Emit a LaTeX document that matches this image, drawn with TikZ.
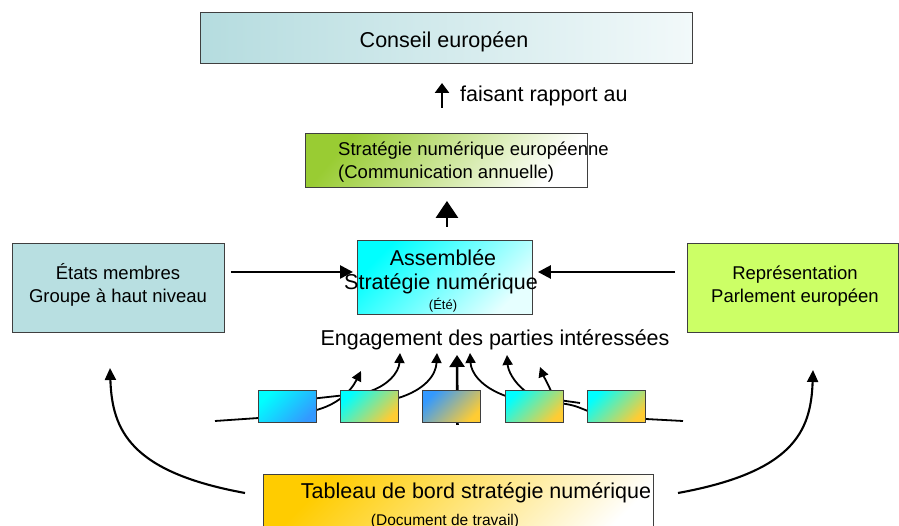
\documentclass[tikz,border=0pt]{standalone}
\usepackage{fontspec}
\setmainfont{Liberation Sans}
\usetikzlibrary{arrows.meta,calc}
\pgfdeclarelayer{background}
\pgfsetlayers{background,main}
\definecolor{consA}{HTML}{B5DCDF}
\definecolor{consB}{HTML}{F2F9FA}
\definecolor{euG}{HTML}{99CC33}
\definecolor{euM}{HTML}{D6ECB0}
\definecolor{etat}{HTML}{B8DFE1}
\definecolor{asmB}{HTML}{E6FFFF}
\definecolor{asmM}{HTML}{8CFFFF}
\definecolor{repr}{HTML}{CCFF66}
\definecolor{cyanC}{HTML}{00FFFF}
\definecolor{blueC}{HTML}{3399FF}
\definecolor{goldC}{HTML}{FFCC33}
\definecolor{paleM}{HTML}{A8E8D0}
\definecolor{grayM}{HTML}{BBB8C0}
\definecolor{tabG}{HTML}{FFCC00}
\definecolor{tabM}{HTML}{FFEBA8}
\definecolor{edge}{HTML}{3F3F3F}
\begin{document}
\begin{tikzpicture}[x=1pt,y=-1pt,
  box/.style={draw=edge, line width=0.9pt, inner sep=0pt, anchor=north west},
  smallbox/.style={box, minimum width=58pt, minimum height=32pt},
  txt/.style={inner sep=0pt, text=black, anchor=base},
  fbig/.style={font=\fontsize{21.5}{25}\selectfont},
  fmid/.style={font=\fontsize{18.5}{22}\selectfont},
  bigarrow/.style={line width=2.6pt, -{Triangle[length=13pt,width=13pt]}},
  curvearrow/.style={line width=2.1pt, -{Triangle[length=12pt,width=11pt]}},
  smallarrow/.style={line width=1.8pt, -{Triangle[length=10pt,width=10pt]}},
  plainline/.style={line width=1.8pt}
]
\useasboundingbox (0,0) rectangle (899,526);
\begin{pgfonlayer}{background}
\fill[white] (0,0) rectangle (899,526);
\end{pgfonlayer}

% boxes
\node[box, minimum width=492pt, minimum height=51pt, left color=consA, right color=consB] (conseil) at (200,12) {};
\node[box, minimum width=282pt, minimum height=54pt, top color=euG, middle color=euM, bottom color=white, shading angle=50] (eu) at (305,133) {};
\node[box, minimum width=212pt, minimum height=89pt, fill=etat] (etats) at (12,243) {};
\node[box, minimum width=175pt, minimum height=74pt, top color=cyanC, middle color=asmM, bottom color=asmB, shading angle=45] (asm) at (357,240) {};
\node[box, minimum width=211pt, minimum height=89pt, fill=repr] (repr) at (687,243) {};
\node[smallbox, top color=cyanC, bottom color=blueC, shading angle=45] (b1) at (258,390) {};
\node[smallbox, top color=cyanC, middle color=paleM, bottom color=goldC, shading angle=45] (b2) at (340,390) {};
\node[smallbox, top color=blueC, middle color=grayM, bottom color=goldC, shading angle=45] (b3) at (422,390) {};
\node[smallbox, top color=cyanC, middle color=paleM, bottom color=goldC, shading angle=45] (b4) at (505,390) {};
\node[smallbox, top color=cyanC, middle color=paleM, bottom color=goldC, shading angle=45] (b5) at (587,390) {};
\node[box, minimum width=390pt, minimum height=80pt, top color=tabG, middle color=tabM, bottom color=white, shading angle=45] (tab) at (263,474) {};

% texts
\node[txt, fbig] (conseilT) at (444,48) {Conseil européen};
\node[txt, fbig, anchor=base west] (rapport) at (460,102) {faisant rapport au};
\node[txt, fmid, anchor=base west] (euT1) at (338,156) {Stratégie numérique européenne};
\node[txt, fmid, anchor=base west] (euT2) at (338,179) {(Communication annuelle)};
\node[txt, fmid] (etT1) at (118,280) {États membres};
\node[txt, fmid] (etT2) at (118,303) {Groupe à haut niveau};
\node[txt, fmid] (reT1) at (795,280) {Représentation};
\node[txt, fmid] (reT2) at (795,303) {Parlement européen};
\node[txt, fbig] (asT1) at (443,266) {Assemblée};
\node[txt, fbig] (asT2) at (441,290) {Stratégie numérique};
\node[txt, font=\fontsize{13}{15}\selectfont] (asT3) at (443,310) {(Été)};
\node[txt, fbig] (engage) at (495,345) {Engagement des parties intéressées};
\node[txt, fbig] (tabT1) at (476,498) {Tableau de bord stratégie numérique};
\node[txt, font=\fontsize{15.5}{18}\selectfont] (tabT2) at (445,525) {(Document de travail)};

% free ends
\coordinate (y272) at (0,272);
\coordinate (rapA) at (442,108);
\coordinate (rapB) at (442,83);
\coordinate (L0) at (215,421);
\coordinate (R0) at (683,421);
\coordinate (TL) at (110,368);
\coordinate (TR) at (813,370);
\coordinate (SL) at (245,493);
\coordinate (SR) at (678,493);
\coordinate (t1) at (361,371);
\coordinate (t2) at (400,353);
\coordinate (t3) at (437,353);
\coordinate (t4) at (457,355);
\coordinate (t5) at (470,353);
\coordinate (t6) at (507,355);
\coordinate (t7) at (540,367);
\coordinate (m45) at (580,403);

\begin{pgfonlayer}{background}
% main arrows
\draw[line width=2.5pt, -{Triangle[length=10pt,width=14pt]}] (rapA) -- (rapB);
\draw[line width=2.5pt, -{Triangle[length=17pt,width=22pt]}, shorten <=13pt, shorten >=13pt] ($(asm.north)+(2,0)$) -- ($(asm.north |- eu.south)+(2,0)$);
\draw[bigarrow, shorten <=6pt, shorten >=4pt] (etats.east |- y272) -- (asm.west |- y272);
\draw[bigarrow, shorten <=12pt, shorten >=5pt] (repr.west |- y272) -- (asm.east |- y272);
% big curves from the dashboard
\draw[curvearrow] (SL) .. controls (130,472) and (112,430) .. (TL);
\draw[curvearrow] (SR) .. controls (793,472) and (811,432) .. (TR);
% small connectors
\draw[plainline] (L0) -- ($(b1.south west)+(2,-5)$);
\draw[plainline] ($(b1.east)+(-2,-8)$) -- ($(b2.west)+(2,-11)$);
\draw[smallarrow] ($(b1.east)+(-2,4)$) .. controls (336,405) and (350,393) .. (t1);
\draw[smallarrow] ($(b2.north)+(-2,2)$) .. controls (388,386) and (399,372) .. (t2);
\draw[smallarrow] ($(b2.east)+(-2,-8)$) .. controls (425,390) and (436,375) .. (t3);
\draw[line width=2.6pt, -{Triangle[length=12pt,width=15pt]}] ($(b3.south)+(6,2)$) -- (t4);
\draw[smallarrow] ($(b4.west)+(2,-10)$) .. controls (480,387) and (471,372) .. (t5);
\draw[smallarrow] ($(b4.north)+(-8,2)$) .. controls (513,382) and (508,370) .. (t6);
\draw[smallarrow] ($(b4.north)+(17,2)$) .. controls (547,382) and (543,375) .. (t7);
\draw[plainline] ($(b4.east)+(-2,-6)$) -- (m45);
\draw[plainline] ($(b4.east)+(-2,-3)$) .. controls (575,405) and (580,408) .. ($(b5.west)+(2,5)$);
\draw[plainline] ($(b5.south east)+(-2,-4)$) -- (R0);
\end{pgfonlayer}
\end{tikzpicture}
\end{document}
